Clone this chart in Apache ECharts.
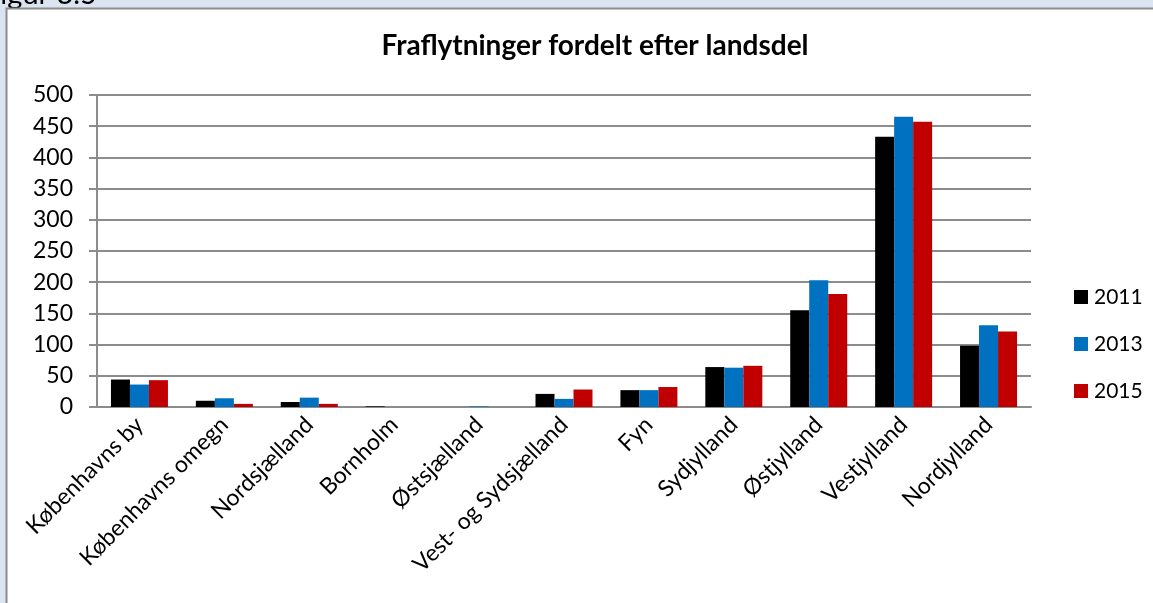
<!DOCTYPE html>
<html>
<head>
<meta charset="utf-8">
<script src="https://cdn.jsdelivr.net/npm/echarts@6/dist/echarts.min.js"></script>
<style>
html,body{margin:0;padding:0;background:#dbe5f1;}
#c{width:1153px;height:603px;}
</style>
</head>
<body>
<div id="c"></div>
<script>
const categories = ["Københavns by","Københavns omegn","Nordsjælland","Bornholm","Østsjælland","Vest- og Sydsjælland","Fyn","Sydjylland","Østjylland","Vestjylland","Nordjylland"];
const seriesNames = ["2011","2013","2015"];
const v2011 = [44, 10, 8, 1, 0, 21, 27, 64, 155, 433, 98];
const v2013 = [36, 14, 15, 0, 1, 13, 27, 63, 203, 465, 131];
const v2015 = [43, 5, 5, 0, 0, 28, 32, 66, 181, 457, 121];
const yTicks = {min: 0, max: 500, interval: 50};
const colors = ["#000000", "#0070c0", "#c00000"];
const FONT = "Lato, 'Noto Sans', sans-serif";

const chart = echarts.init(document.getElementById('c'), null, {renderer: 'canvas'});
const values = [v2011, v2013, v2015];
chart.setOption({
  animation: false,
  backgroundColor: '#dbe5f1',
  graphic: [
    {type: 'rect', shape: {x: 6.5, y: 8.5, width: 1200, height: 700}, style: {fill: '#ffffff', stroke: '#8c8c8c', lineWidth: 2}, z: -10},
    {type: 'text', x: -16, y: 9, style: {text: 'Figur 3.5', font: '29px ' + FONT, fill: '#000', textVerticalAlign: 'bottom'}, z: -11}
  ],
  title: {
    text: 'Fraflytninger fordelt efter landsdel',
    left: 590, textAlign: 'center', top: 27,
    textStyle: {fontFamily: FONT, fontSize: 28, fontWeight: 'bold', color: '#000'}
  },
  legend: {
    orient: 'vertical', left: 1069, top: 281,
    itemWidth: 14, itemHeight: 14, itemGap: 25,
    icon: 'rect',
    textStyle: {fontFamily: FONT, fontSize: 21, color: '#000', lineHeight: 22, padding: [0, 0, 0, 1]},
    data: seriesNames
  },
  grid: {left: 97, right: 122, top: 95, bottom: 196, containLabel: false},
  xAxis: {
    type: 'category', data: categories,
    axisLine: {lineStyle: {color: '#8c8c8c', width: 2}},
    axisTick: {show: false},
    axisLabel: {rotate: 45, interval: 0, fontFamily: FONT, fontSize: 23, color: '#000', margin: 14}
  },
  yAxis: {
    type: 'value', min: yTicks.min, max: yTicks.max, interval: yTicks.interval,
    axisLine: {show: true, lineStyle: {color: '#8c8c8c', width: 2}},
    axisTick: {show: true, length: 8, lineStyle: {color: '#8c8c8c', width: 2}},
    splitLine: {lineStyle: {color: '#8c8c8c', width: 2}},
    axisLabel: {fontFamily: FONT, fontSize: 23, color: '#000', margin: 24}
  },
  series: seriesNames.map((n, i) => ({
    name: n, type: 'bar', data: values[i],
    barWidth: 19, barGap: '0%',
    itemStyle: {color: colors[i]}
  }))
});
</script>
</body>
</html>
